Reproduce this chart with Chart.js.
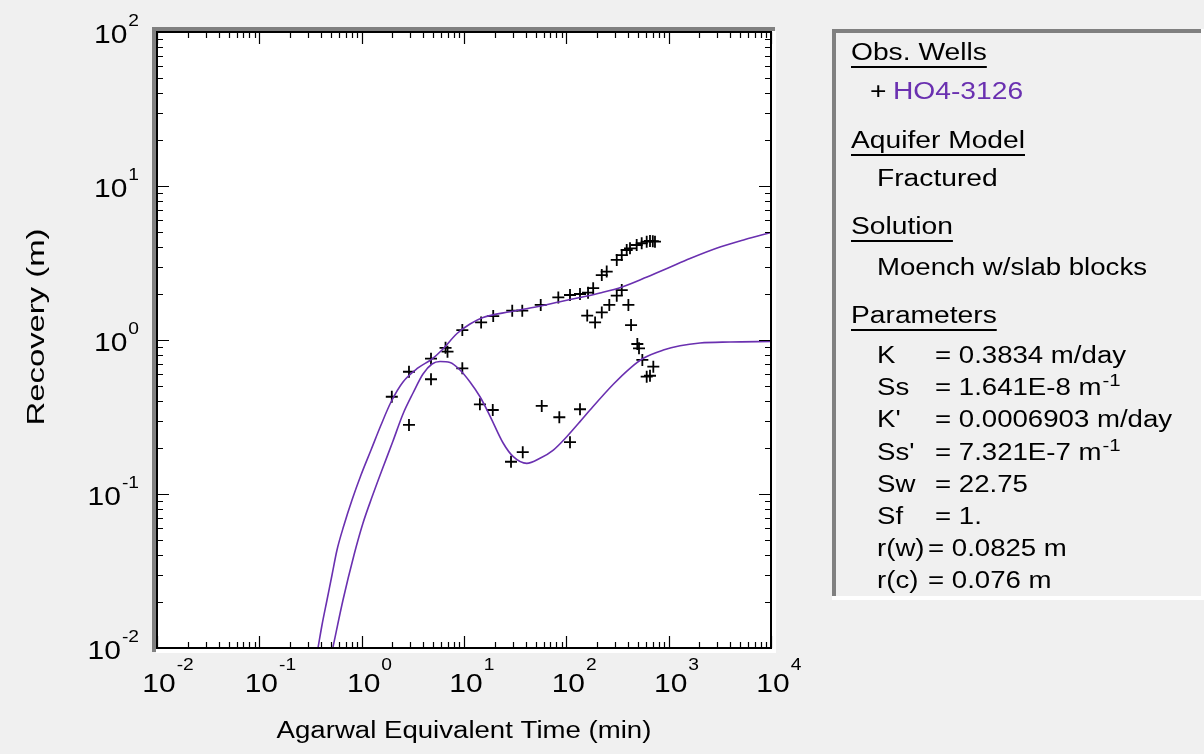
<!DOCTYPE html>
<html><head><meta charset="utf-8">
<script src="https://cdn.jsdelivr.net/npm/chart.js@4.4.0/dist/chart.umd.min.js"></script>
<style>html,body{margin:0;padding:0;background:#f0f0f0;overflow:hidden}</style>
</head><body>
<canvas id="c" width="1204" height="754"></canvas>
<script>
// ---- data ----
const obsUpperTime = [1.97,2.90,4.76,6.6,6.9,9.63,14.7,19.3,29.6,37.1,56.2,83.5,108.6,136,163,183,222,248,311,348,389,419,487,545,610,657,700,735];
const obsUpperRecovery = [0.428,0.622,0.756,0.89,0.84,1.16,1.30,1.43,1.55,1.55,1.69,1.89,1.96,1.99,2.03,2.17,2.64,2.78,3.31,3.56,3.84,3.94,4.14,4.25,4.35,4.40,4.38,4.35];
const obsLowerTime = [2.90,4.76,9.63,14.3,19.1,28.8,37.5,57.5,85.4,108.6,136,160,191,222,263,311,348,404,429,494,513,553,610,657,708];
const obsLowerRecovery = [0.281,0.556,0.655,0.382,0.351,0.162,0.187,0.373,0.315,0.217,0.355,1.44,1.30,1.51,1.69,1.94,2.11,1.69,1.25,0.942,0.883,0.742,0.578,0.586,0.671];

const modelUpperTime = [0.3744,0.4097,0.4585,0.5131,0.5741,0.6722,0.8047,0.985,1.234,1.545,1.935,2.535,3.553,4.869,6.097,8.545,11.45,15.34,28.2,51.7,86.7,136,213.4,350,614,963,1617,3176,5573,10000];
const modelUpperRecovery = [0.01,0.0141,0.0205,0.0298,0.0433,0.0629,0.0914,0.1329,0.1931,0.2805,0.3957,0.534,0.658,0.7527,0.861,1.102,1.27,1.40,1.527,1.645,1.773,1.888,2.02,2.21,2.566,2.912,3.382,4.017,4.494,4.99];
const modelLowerTime = [0.5248,0.657,0.8416,1.031,1.262,1.58,2.024,2.535,3.176,3.975,4.869,5.83,7.30,9.14,11.45,14.34,17.96,24.2,30.3,41.0,55.3,74.6,100.9,136,170.3,287.8,419,565,886.6,1291,2025,3977,10000];
const modelLowerRecovery = [0.01015,0.0205,0.0402,0.0648,0.0955,0.1432,0.2209,0.3309,0.4527,0.6014,0.6985,0.7249,0.7143,0.639,0.534,0.428,0.3209,0.2135,0.1747,0.158,0.1705,0.193,0.2355,0.295,0.351,0.516,0.655,0.761,0.861,0.918,0.956,0.970,0.978];

const xDecades = [0.01,0.1,1,10,100,1000,10000];
const xExponents = ['-2','-1','0','1','2','3','4'];
const yDecades = [0.01,0.1,1,10,100];
const yExponents = ['-2','-1','0','1','2'];
const minorMultipliers = [2,3,4,5,6,7,8,9];

const xTitle = 'Agarwal Equivalent Time (min)';
const yTitle = 'Recovery (m)';
const wellName = 'HO4-3126';
const modelName = 'Fractured';
const solutionName = 'Moench w/slab blocks';
const paramNames = ['K','Ss','K\'','Ss\'','Sw','Sf','r(w)','r(c)'];
const paramValues = ['= 0.3834 m/day','= 1.641E-8 m','= 0.0006903 m/day','= 7.321E-7 m','= 22.75','= 1.','= 0.0825 m','= 0.076 m'];
const paramSup = ['','-1','','-1','','','',''];

const PURPLE = '#6a30b0';
const FONT = '"Liberation Sans", Arial, sans-serif';
const SX = 1.2;

function pts(xs, ys){ return xs.map((x,i)=>({x:x,y:ys[i]})); }

function text(ctx, s, x, y, size, color, align){
  ctx.save();
  ctx.font = size + 'px ' + FONT;
  const w = ctx.measureText(s).width * SX;
  let x0 = x;
  if (align === 'center') x0 = x - w/2;
  else if (align === 'right') x0 = x - w;
  ctx.translate(x0, y);
  ctx.scale(SX, 1);
  ctx.fillStyle = color;
  ctx.textAlign = 'left';
  ctx.textBaseline = 'alphabetic';
  ctx.fillText(s, 0, 0);
  ctx.restore();
  return w;
}
function measure(ctx, s, size){
  ctx.save(); ctx.font = size + 'px ' + FONT;
  const w = ctx.measureText(s).width * SX; ctx.restore(); return w;
}

const framePlugin = {
  id: 'frame',
  beforeDraw(chart){
    const ctx = chart.ctx, a = chart.chartArea;
    ctx.save();
    ctx.fillStyle = '#f0f0f0';
    ctx.fillRect(0,0,chart.width,chart.height);
    ctx.fillStyle = '#808080';
    ctx.fillRect(a.left-5, a.top-5, a.right-a.left+9, 4);
    ctx.fillRect(a.left-5, a.top-5, 4, a.bottom-a.top+9);
    ctx.fillStyle = '#ffffff';
    ctx.fillRect(a.left-1, a.top-1, a.right-a.left+6, a.bottom-a.top+6);
    ctx.restore();
  },
  afterDatasetsDraw(chart){
    const ctx = chart.ctx, a = chart.chartArea;
    const xs = chart.scales.x, ys = chart.scales.y;
    ctx.save();
    ctx.strokeStyle = '#000'; ctx.lineWidth = 2;
    ctx.strokeRect(a.left, a.top, a.right-a.left, a.bottom-a.top);
    ctx.lineWidth = 1.2;
    ctx.beginPath();
    const majorLen = 12, minorLen = 6;
    xDecades.forEach((d,i)=>{
      const px = Math.round(xs.getPixelForValue(d))+0.5;
      ctx.moveTo(px, a.bottom); ctx.lineTo(px, a.bottom-majorLen);
      ctx.moveTo(px, a.top); ctx.lineTo(px, a.top+majorLen);
      if (i < xDecades.length-1) minorMultipliers.forEach(m=>{
        const p = Math.round(xs.getPixelForValue(d*m))+0.5;
        ctx.moveTo(p, a.bottom); ctx.lineTo(p, a.bottom-minorLen);
        ctx.moveTo(p, a.top); ctx.lineTo(p, a.top+minorLen);
      });
    });
    yDecades.forEach((d,i)=>{
      const py = Math.round(ys.getPixelForValue(d))+0.5;
      ctx.moveTo(a.left, py); ctx.lineTo(a.left+majorLen, py);
      ctx.moveTo(a.right, py); ctx.lineTo(a.right-majorLen, py);
      if (i < yDecades.length-1) minorMultipliers.forEach(m=>{
        const p = Math.round(ys.getPixelForValue(d*m))+0.5;
        ctx.moveTo(a.left, p); ctx.lineTo(a.left+minorLen, p);
        ctx.moveTo(a.right, p); ctx.lineTo(a.right-minorLen, p);
      });
    });
    ctx.stroke();

    // tick labels
    const BIG = 25, SUP = 16;
    xDecades.forEach((d,i)=>{
      const px = xs.getPixelForValue(d);
      const w10 = measure(ctx,'10',BIG);
      const x0 = px + 2 - w10/2;
      text(ctx,'10',x0,a.bottom+44,BIG,'#000','left');
      text(ctx,xExponents[i],x0+w10+1,a.bottom+22,SUP,'#000','left');
    });
    yDecades.forEach((d,i)=>{
      const py = ys.getPixelForValue(d);
      const we = measure(ctx,yExponents[i],SUP);
      const right = 139;
      text(ctx,'10',right-we-1,py+11,BIG,'#000','right');
      text(ctx,yExponents[i],right-we,py-6,SUP,'#000','left');
    });
    // axis titles
    text(ctx,xTitle,(a.left+a.right)/2,738,23,'#000','center');
    ctx.save();
    ctx.translate(44,327);
    ctx.rotate(-Math.PI/2);
    ctx.font = '23px ' + FONT;
    const tw = ctx.measureText(yTitle).width;
    ctx.scale(197/tw,1);
    ctx.fillStyle = '#000';
    ctx.textAlign = 'center';
    ctx.textBaseline = 'alphabetic';
    ctx.fillText(yTitle,0,0);
    ctx.restore();

    // legend panel
    const L = 832, T = 29, R = 1201, B = 600;
    ctx.fillStyle = '#808080';
    ctx.fillRect(L, T, R-L, 4);
    ctx.fillRect(L, T, 4, B-T);
    ctx.fillStyle = '#ffffff';
    ctx.fillRect(L, B-4, R-L+3, 4);
    ctx.fillRect(R, T, 3, B-T);

    const heads = [['Obs. Wells',60],['Aquifer Model',148],['Solution',234],['Parameters',323]];
    heads.forEach(h=>{
      const w = text(ctx,h[0],851,h[1],23.5,'#000','left');
      ctx.fillStyle = '#000';
      ctx.fillRect(851,h[1]+6,w,2);
    });
    text(ctx,'+',870,99,23.5,'#000','left');
    text(ctx,wellName,893,99,23.5,PURPLE,'left');
    text(ctx,modelName,877,186,23.5,'#000','left');
    text(ctx,solutionName,877,275,23,'#000','left');
    paramNames.forEach((n,i)=>{
      const y = 363 + i*32.2;
      text(ctx,n,877,y,23,'#000','left');
      const ex = (n.length>3) ? 928 : 935;
      const w = text(ctx,paramValues[i],ex,y,23,'#000','left');
      if (paramSup[i]) text(ctx,paramSup[i],ex+w+1,y-9,17,'#000','left');
    });
    ctx.restore();
  }
};

new Chart(document.getElementById('c'), {
  type: 'scatter',
  data: {
    datasets: [
      {data: pts(modelUpperTime, modelUpperRecovery), showLine:true, borderColor:PURPLE, borderWidth:1.6, pointRadius:0, cubicInterpolationMode:'monotone', fill:false},
      {data: pts(modelLowerTime, modelLowerRecovery), showLine:true, borderColor:PURPLE, borderWidth:1.6, pointRadius:0, cubicInterpolationMode:'monotone', fill:false},
      {data: pts(obsUpperTime, obsUpperRecovery), pointStyle:'cross', pointRadius:6, pointBorderWidth:1.8, borderColor:'#000', backgroundColor:'#000', showLine:false},
      {data: pts(obsLowerTime, obsLowerRecovery), pointStyle:'cross', pointRadius:6, pointBorderWidth:1.8, borderColor:'#000', backgroundColor:'#000', showLine:false}
    ]
  },
  options: {
    responsive: false,
    animation: false,
    devicePixelRatio: 1,
    layout: {padding: {left:157, top:32, right:433, bottom:106}},
    plugins: {legend:{display:false}, tooltip:{enabled:false}},
    scales: {
      x: {type:'logarithmic', min:0.01, max:10000, display:false},
      y: {type:'logarithmic', min:0.01, max:100, display:false}
    }
  },
  plugins: [framePlugin]
});
</script>
</body></html>
